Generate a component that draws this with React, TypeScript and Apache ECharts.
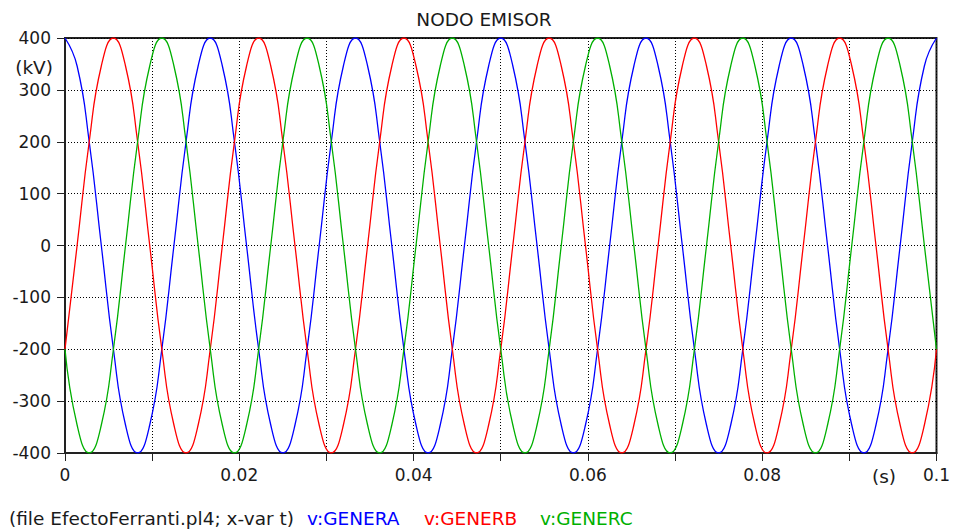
import React, { useEffect, useRef } from "react";
import * as echarts from "echarts";

const titleText = "NODO EMISOR";
const fileText = "(file EfectoFerranti.pl4; x-var t)";
const seriesNames = ["v:GENERA", "v:GENERB", "v:GENERC"];
const seriesColors = ["#0000ff", "#ff0000", "#00b000"];
const xTickLabels = ["0", "0.02", "0.04", "0.06", "0.08", "0.1"];

// sample times (s), every 30 electrical degrees at 60 Hz
const times = [
  0, 0.001389, 0.002778, 0.004167, 0.005556, 0.006944, 0.008333, 0.009722, 0.011111, 0.0125, 0.013889, 0.015278,
  0.016667, 0.018056, 0.019444, 0.020833, 0.022222, 0.023611, 0.025, 0.026389, 0.027778, 0.029167, 0.030556, 0.031944,
  0.033333, 0.034722, 0.036111, 0.0375, 0.038889, 0.040278, 0.041667, 0.043056, 0.044444, 0.045833, 0.047222, 0.048611,
  0.05, 0.051389, 0.052778, 0.054167, 0.055556, 0.056944, 0.058333, 0.059722, 0.061111, 0.0625, 0.063889, 0.065278,
  0.066667, 0.068056, 0.069444, 0.070833, 0.072222, 0.073611, 0.075, 0.076389, 0.077778, 0.079167, 0.080556, 0.081944,
  0.083333, 0.084722, 0.086111, 0.0875, 0.088889, 0.090278, 0.091667, 0.093056, 0.094444, 0.095833, 0.097222, 0.098611,
  0.1,
];

// kV
const generA = [
  400, 346, 200, 0, -200, -346, -400, -346, -200, 0, 200, 346,
  400, 346, 200, 0, -200, -346, -400, -346, -200, 0, 200, 346,
  400, 346, 200, 0, -200, -346, -400, -346, -200, 0, 200, 346,
  400, 346, 200, 0, -200, -346, -400, -346, -200, 0, 200, 346,
  400, 346, 200, 0, -200, -346, -400, -346, -200, 0, 200, 346,
  400, 346, 200, 0, -200, -346, -400, -346, -200, 0, 200, 346,
  400,
];
const generB = [
  -200, 0, 200, 346, 400, 346, 200, 0, -200, -346, -400, -346,
  -200, 0, 200, 346, 400, 346, 200, 0, -200, -346, -400, -346,
  -200, 0, 200, 346, 400, 346, 200, 0, -200, -346, -400, -346,
  -200, 0, 200, 346, 400, 346, 200, 0, -200, -346, -400, -346,
  -200, 0, 200, 346, 400, 346, 200, 0, -200, -346, -400, -346,
  -200, 0, 200, 346, 400, 346, 200, 0, -200, -346, -400, -346,
  -200,
];
const generC = [
  -200, -346, -400, -346, -200, 0, 200, 346, 400, 346, 200, 0,
  -200, -346, -400, -346, -200, 0, 200, 346, 400, 346, 200, 0,
  -200, -346, -400, -346, -200, 0, 200, 346, 400, 346, 200, 0,
  -200, -346, -400, -346, -200, 0, 200, 346, 400, 346, 200, 0,
  -200, -346, -400, -346, -200, 0, 200, 346, 400, 346, 200, 0,
  -200, -346, -400, -346, -200, 0, 200, 346, 400, 346, 200, 0,
  -200,
];

const FONT = "DejaVu Sans, sans-serif";
const FS = 17;
const FT = 18.5;
const TXT = "#1a1a1a";
const AXIS = "#222222";

export default function App() {
  const ref = useRef<HTMLDivElement>(null);
  useEffect(() => {
    if (!ref.current) return;
    const chart = echarts.init(ref.current, undefined, { renderer: "svg" });
    const values = [generA, generB, generC];
    const txt = (text: string, x: number, y: number, fill: string, align: string, size = FT) => ({
      type: "text",
      x,
      y,
      style: { text, fontSize: size, fill, fontFamily: FONT, align, verticalAlign: "middle" },
    });
    chart.setOption({
      animation: false,
      backgroundColor: "#ffffff",
      textStyle: { fontFamily: FONT },
      grid: {
        left: 65,
        right: 16,
        top: 38,
        bottom: 78,
        show: true,
        borderColor: AXIS,
        borderWidth: 2,
        backgroundColor: "transparent",
      },
      xAxis: {
        type: "value",
        min: 0,
        max: 0.1,
        interval: 0.01,
        axisLine: { show: true, onZero: false, lineStyle: { color: AXIS, width: 2 } },
        axisTick: { show: true, length: 8, lineStyle: { color: AXIS, width: 1 } },
        axisLabel: {
          fontSize: FS,
          color: TXT,
          margin: 13,
          fontFamily: FONT,
          formatter: (v: number) => {
            const s = xTickLabels.find((l) => Math.abs(parseFloat(l) - v) < 1e-9);
            return s ?? "";
          },
        },
        splitLine: { show: true, lineStyle: { color: "#000", width: 1, type: [1, 2] } },
      },
      yAxis: {
        type: "value",
        min: -400,
        max: 400,
        interval: 100,
        axisLine: { show: true, onZero: false, lineStyle: { color: AXIS, width: 2 } },
        axisTick: { show: true, length: 8, lineStyle: { color: AXIS, width: 1 } },
        axisLabel: { fontSize: FS, color: TXT, margin: 14, fontFamily: FONT },
        splitLine: { show: true, lineStyle: { color: "#000", width: 1, type: [1, 2] } },
      },
      graphic: [
        txt(titleText, 484, 19, TXT, "center"),
        txt("(kV)", 53, 67, TXT, "right"),
        txt("(s)", 884, 476, TXT, "center"),
        txt(fileText, 9, 518, TXT, "left"),
        txt(seriesNames[0], 307, 518, seriesColors[0], "left"),
        txt(seriesNames[1], 424, 518, seriesColors[1], "left"),
        txt(seriesNames[2], 540, 518, seriesColors[2], "left"),
      ],
      series: values.map((vals, k) => ({
        name: seriesNames[k],
        type: "line",
        showSymbol: false,
        smooth: true,
        data: times.map((t, i) => [t, vals[i]]),
        lineStyle: { color: seriesColors[k], width: 1.3 },
        itemStyle: { color: seriesColors[k] },
      })),
    });
    return () => chart.dispose();
  }, []);
  return <div ref={ref} style={{ position: "fixed", left: 0, top: 0, width: 953, height: 531 }} />;
}
